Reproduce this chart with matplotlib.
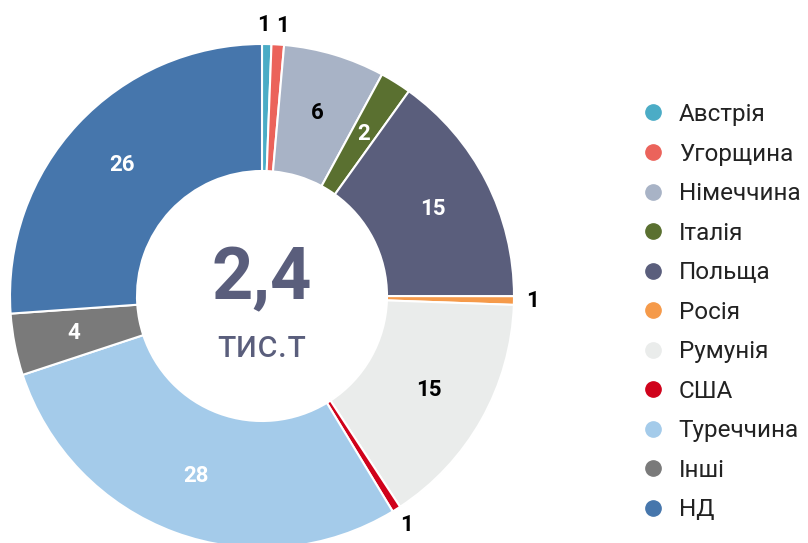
import matplotlib
matplotlib.use("Agg")
import matplotlib.pyplot as plt
from matplotlib.lines import Line2D
import numpy as np

categories = ["Австрія", "Угорщина", "Німеччина", "Італія", "Польща", "Росія",
              "Румунія", "США", "Туреччина", "Інші", "НД"]
values = [0.6, 0.8, 6.5, 2.0, 15.1, 0.55, 15.2, 0.55, 28.6, 3.95, 26.1]
value_labels = ["1", "1", "6", "2", "15", "1", "15", "1", "28", "4", "26"]
colors = ["#4BACC6", "#EB635B", "#A8B3C6", "#5A7030", "#5A5E7C", "#F59A4A",
          "#EAECEB", "#D0021B", "#A4CBEA", "#7A7A7A", "#4676AC"]
label_colors = ["black", "black", "black", "white", "white", "black",
                "black", "black", "white", "white", "white"]
outside = [True, True, False, False, False, True, False, True, False, False, False]
total_text = "2,4"
unit_text = "тис.т"

plt.rcParams['font.family'] = ['Roboto', 'DejaVu Sans']

W, H = 808, 543
fig = plt.figure(figsize=(W / 100, H / 100), dpi=100)
cx, cy, R = 262, 296, 252
ax = fig.add_axes([(cx - R) / W, (H - cy - R) / H, 2 * R / W, 2 * R / H])

inner = 125 / 252
wedges, _ = ax.pie(values, colors=colors, startangle=90, counterclock=False,
                   radius=1, wedgeprops=dict(width=1 - inner, edgecolor='white', linewidth=1.5),
                   normalize=True)
ax.set_xlim(-1, 1)
ax.set_ylim(-1, 1)
ax.axis('off')
for w in wedges:
    w.set_clip_on(False)

# small angular spread for the two crowded outside labels at the top (degrees)
spread = [-0.8, 0.8, 0, 0, 0, 0, 0, 0, 0, 0, 0]

tot = sum(values)
cum = 0
for v, lab, lc, out, sp in zip(values, value_labels, label_colors, outside, spread):
    mid = (cum + v / 2) / tot * 360 + sp
    cum += v
    ang = np.deg2rad(90 - mid)
    r = 1.075 if out else 0.76
    ax.text(r * np.cos(ang), r * np.sin(ang), lab, ha='center', va='center',
            fontsize=16, fontweight='bold', color=lc, clip_on=False)

ax.text(0, 0.065, total_text, ha='center', va='center', fontsize=52,
        fontweight='bold', color='#5A5E7C')
ax.text(0, -0.2, unit_text, ha='center', va='center', fontsize=27.5, color='#5A5E7C')

handles = [Line2D([], [], marker='o', linestyle='', markersize=11,
                  markerfacecolor=c, markeredgecolor=c) for c in colors]
leg = fig.legend(handles, categories, loc='upper left',
                 bbox_to_anchor=(641 / W, 1 - 103 / H), frameon=False,
                 fontsize=17.5, labelspacing=0.68, handletextpad=0.55,
                 handlelength=1.0, borderpad=0, borderaxespad=0)
for t in leg.get_texts():
    t.set_color('#222222')

fig.savefig("out.png", dpi=100)
